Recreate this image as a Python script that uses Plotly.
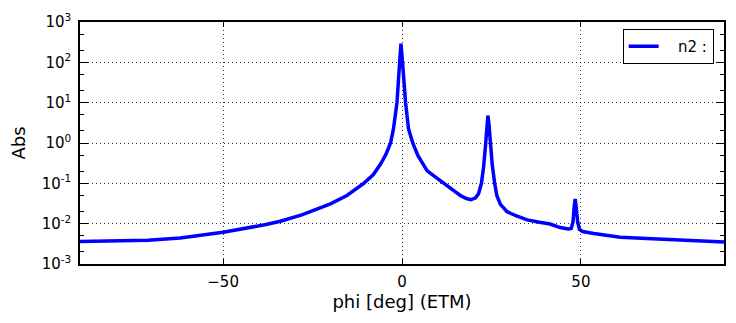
import plotly.graph_objects as go

# values
phi = [-90, -80, -71, -62, -50, -38, -34, -28, -25, -20, -15.4, -10.7, -8, -6,
       -4.5, -3.2, -2.4, -1.9, -1.4, -1.05, -0.75, -0.3, 0.15, 0.55, 1.0, 1.8,
       3.0, 4.5, 7, 9, 11.6, 14, 16.3, 18, 19.2, 20.5, 21.4, 22.2, 22.8, 23.4,
       23.8, 24.0, 24.3, 24.7, 25.2, 25.9, 26.5, 27.5, 29.3, 32, 35, 38, 41.4,
       44.2, 46.5, 47.3, 47.8, 48.1, 48.4, 48.7, 49.1, 49.6, 50.5, 53.6, 57,
       61, 70, 80, 90]
abs_n2 = [0.0036, 0.0037, 0.0039, 0.0044, 0.0061, 0.0095, 0.0115, 0.0165,
          0.021, 0.031, 0.05, 0.1, 0.165, 0.30, 0.52, 1.0, 2.2, 4.5, 10, 30,
          100, 290, 100, 30, 10, 2.3, 1.0, 0.48, 0.207, 0.15, 0.1, 0.07, 0.05,
          0.042, 0.0395, 0.043, 0.055, 0.1, 0.25, 1.0, 3.0, 4.8, 3.0, 1.0, 0.3,
          0.1, 0.05, 0.03, 0.02, 0.0155, 0.0124, 0.011, 0.0098, 0.008, 0.0074,
          0.0076, 0.011, 0.025, 0.041, 0.025, 0.011, 0.0072, 0.0064, 0.0057,
          0.0051, 0.0046, 0.0042, 0.0038, 0.0035]

x_ticks = [-50, 0, 50]
x_ticktext = ["\u221250", "0", "50"]
y_ticks = [1e-3, 1e-2, 1e-1, 1e0, 1e1, 1e2, 1e3]
y_ticktext = ["10<sup>-3</sup>", "10<sup>-2</sup>", "10<sup>-1</sup>",
              "10<sup>0</sup>", "10<sup>1</sup>", "10<sup>2</sup>",
              "10<sup>3</sup>"]

fig = go.Figure()
fig.add_trace(go.Scatter(
    x=phi, y=abs_n2, mode="lines", name="\u00a0\u00a0\u00a0n2 :",
    line=dict(color="#0000ff", width=3.5)
))

axis_common = dict(
    showline=True, linecolor="black", linewidth=1.5, mirror="ticks",
    ticks="inside", tickcolor="black", automargin=False,
    showgrid=True, gridcolor="rgba(0,0,0,0.8)", griddash="1px,3px",
    gridwidth=1, zeroline=False,
    tickfont=dict(family="DejaVu Sans", size=15, color="black"),
)

# the page body adds an 8px offset, so the figure is sized to 728x315
fig.update_layout(
    width=728, height=315,
    margin=dict(l=72, r=12, t=14, b=59),
    plot_bgcolor="white", paper_bgcolor="white",
    font=dict(family="DejaVu Sans", size=15, color="black"),
    showlegend=True,
    legend=dict(
        x=0.984, y=0.971, xanchor="right", yanchor="top",
        bgcolor="white", bordercolor="black", borderwidth=1,
        font=dict(size=15), itemwidth=30,
    ),
    xaxis=dict(
        range=[-90, 90], tickvals=x_ticks, ticktext=x_ticktext, ticklen=5,
        ticklabelstandoff=3,
        title=dict(text="phi [deg] (ETM)", standoff=3), **axis_common
    ),
    yaxis=dict(
        type="log", range=[-3, 3], tickvals=y_ticks, ticktext=y_ticktext,
        ticklen=8, ticklabelstandoff=4,
        minor=dict(ticks="inside", ticklen=4, tickcolor="black", showgrid=False),
        title=dict(text="Abs", standoff=12), **axis_common
    ),
)

fig.write_html("out.html")
